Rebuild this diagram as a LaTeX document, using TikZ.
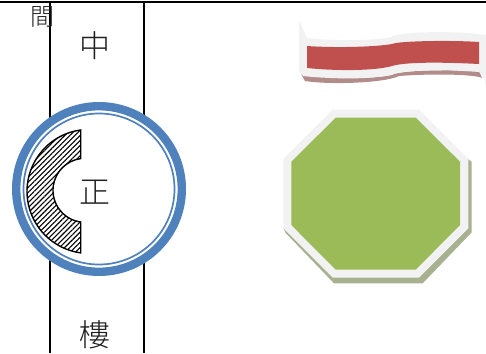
\documentclass[tikz,border=0pt]{standalone}
\usepackage{fontspec}
\newfontfamily\cjk{Noto Sans CJK TC Light}
\usetikzlibrary{positioning, patterns.meta}
\definecolor{ringblue}{HTML}{4F81BD}
\definecolor{bandred}{HTML}{C0504D}
\definecolor{bandshadow}{HTML}{B28C8B}
\definecolor{octgreen}{HTML}{9BBB59}
\definecolor{octshadow}{HTML}{A8B18F}
\definecolor{paleedge}{HTML}{F2F2F2}
\definecolor{glyph}{HTML}{202020}

\begin{document}
\begin{tikzpicture}[
    x=1pt, y=-1pt,
    wall/.style={draw=black, line width=1.4pt},
    label/.style={text=glyph, inner sep=0pt, font=\cjk\fontsize{31}{31}\selectfont},
    smalllabel/.style={label, font=\cjk\fontsize{24}{24}\selectfont},
    hatched/.style={draw=black, line width=1.4pt, pattern={Lines[angle=45, distance=3.6pt, line width=1.1pt]}}
]
\useasboundingbox (0,0) rectangle (486,353);
% Walls
\draw [wall] (0,2) -- (486,2);
\draw [wall] (50,2) -- (50,353);
\draw [wall] (144,2) -- (144,353);
% Rings
\node (outerring) [circle, draw=ringblue, fill=white, line width=8.4pt, minimum size=165.6pt, inner sep=0pt] at (99,189) {};
\node (innerring) [circle, draw=ringblue, line width=1.7pt, minimum size=151pt, inner sep=0pt] at (outerring.center) {};
% Hatched part
\draw [hatched] (80.7,130) arc[start angle=97.7, end angle=262.3, radius=62pt]
    -- (80.7,222) arc[start angle=262.3, end angle=97.7, radius=32pt] -- cycle;
% Labels
\node (labeljian) [smalllabel] at (42.5,17) {間};
\node (labelzhong) [label] at (95,46) {中};
\node (labelzheng) [label] at (95,192) {正};
\node (labellou) [label] at (95,335) {樓};
% Ribbon
\fill [bandshadow] (301,74) .. controls (330,79) and (375,79) .. (392,75)
    .. controls (398,71) and (440,69) .. (479,71) -- (482,78)
    .. controls (478,75) and (440,73) .. (399,76)
    .. controls (385,83) and (330,85) .. (305,81) -- cycle;
\fill [paleedge] (299,20) -- (307,38) .. controls (330,41) and (375,41) .. (391,37)
    .. controls (398,32) and (450,30) .. (486,35) -- (486,86)
    .. controls (484,76) and (482,74) .. (479,72)
    .. controls (440,69) and (405,70) .. (393,74)
    .. controls (375,80) and (330,79) .. (303,76) -- (299,72) -- cycle;
\fill [bandred] (307,46) .. controls (335,48) and (375,47) .. (392,44)
    .. controls (398,41) and (450,40) .. (479,42) -- (479,64)
    .. controls (440,62) and (405,62) .. (392,66)
    .. controls (375,71) and (335,71) .. (307,68) -- cycle;
% Octagon
\fill [octshadow] (468,159) -- (471.7,162) -- (471.7,232.3) -- (422.7,283.3) -- (334,283.3) -- (285.7,233) -- (283.3,228) -- cycle;
\fill [paleedge] (332.7,109.7) -- (419,109.7) -- (468.3,159) -- (468.3,228.3)
    -- (419,277.7) -- (332.7,277.7) -- (283.3,228.3) -- (283.3,159) -- cycle;
\fill [octgreen] (335.7,117.7) -- (415.7,117.7) -- (460,161.7) -- (460,225)
    -- (415.7,269.7) -- (335.7,269.7) -- (291.3,225) -- (291.3,161.7) -- cycle;
\end{tikzpicture}
\end{document}
